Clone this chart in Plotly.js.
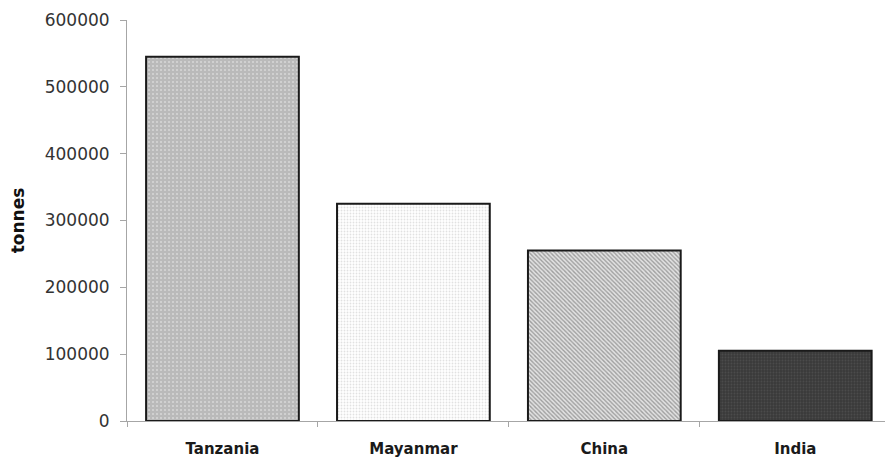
<!DOCTYPE html>
<html>
<head>
<meta charset="utf-8">
<script src="https://cdn.plot.ly/plotly-3.0.1.min.js"></script>
<style>
  html, body { margin: 0; padding: 0; background: #fff; overflow: hidden; }
  #chart { width: 885px; height: 457px; }
</style>
</head>
<body>
<div id="chart"></div>
<script>
// Production by country, in tonnes
const countries = ["Tanzania", "Mayanmar", "China", "India"];
const tonnes = [545000, 325000, 255000, 105000];
const yTicks = [0, 100000, 200000, 300000, 400000, 500000, 600000];

// Fill style for each bar (hatch shape, background, foreground)
const patternShapes = [".", ".", "\\", "."];
const patternBg = ["#bababa", "#ffffff", "#e2e2e2", "#3a3a3a"];
const patternFg = ["#f0f0f0", "#c4c4c4", "#5a5a5a", "#5c5c5c"];
const patternSize = [4, 3, 3, 3];
const patternSolidity = [0.22, 0.3, 0.45, 0.3];

// One trace per country so each bar keeps its own fill
const traces = countries.map((name, i) => ({
  type: "bar",
  x: [name],
  y: [tonnes[i]],
  width: 0.8,
  name: name,
  marker: {
    color: patternBg[i],
    line: { color: "#1a1a1a", width: 2 },
    pattern: {
      shape: patternShapes[i],
      fgcolor: patternFg[i],
      size: patternSize[i],
      solidity: patternSolidity[i],
      fillmode: "overlay"
    }
  },
  hoverinfo: "x+y"
}));

const layout = {
  width: 885,
  height: 457,
  margin: { l: 127, r: 0, t: 20, b: 36 },
  paper_bgcolor: "#ffffff",
  plot_bgcolor: "#ffffff",
  showlegend: false,
  barmode: "overlay",
  font: { family: "DejaVu Sans, sans-serif", color: "#333333" },
  xaxis: {
    type: "category",
    categoryorder: "array",
    categoryarray: countries,
    range: [-0.5, 3.47],
    showline: true,
    linecolor: "#a6a6a6",
    linewidth: 1,
    ticks: "outside",
    tickson: "boundaries",
    ticklen: 5,
    tickcolor: "#a6a6a6",
    showgrid: false,
    zeroline: false,
    ticklabelstandoff: 14,
    tickfont: { size: 15, color: "#1a1a1a", family: "DejaVu Sans, sans-serif", weight: "bold" }
  },
  yaxis: {
    range: [0, 600000],
    tickvals: yTicks,
    ticktext: yTicks.map(String),
    showline: true,
    linecolor: "#a6a6a6",
    linewidth: 1,
    ticks: "outside",
    ticklen: 6,
    tickcolor: "#a6a6a6",
    showgrid: false,
    zeroline: false,
    tickfont: { size: 17, color: "#333333" },
    ticklabelstandoff: 7,
    title: {
      text: "tonnes",
      font: { size: 17, color: "#111111", weight: "bold" },
      standoff: 15
    }
  }
};

Plotly.newPlot("chart", traces, layout, { displayModeBar: false, staticPlot: true });
</script>
</body>
</html>
